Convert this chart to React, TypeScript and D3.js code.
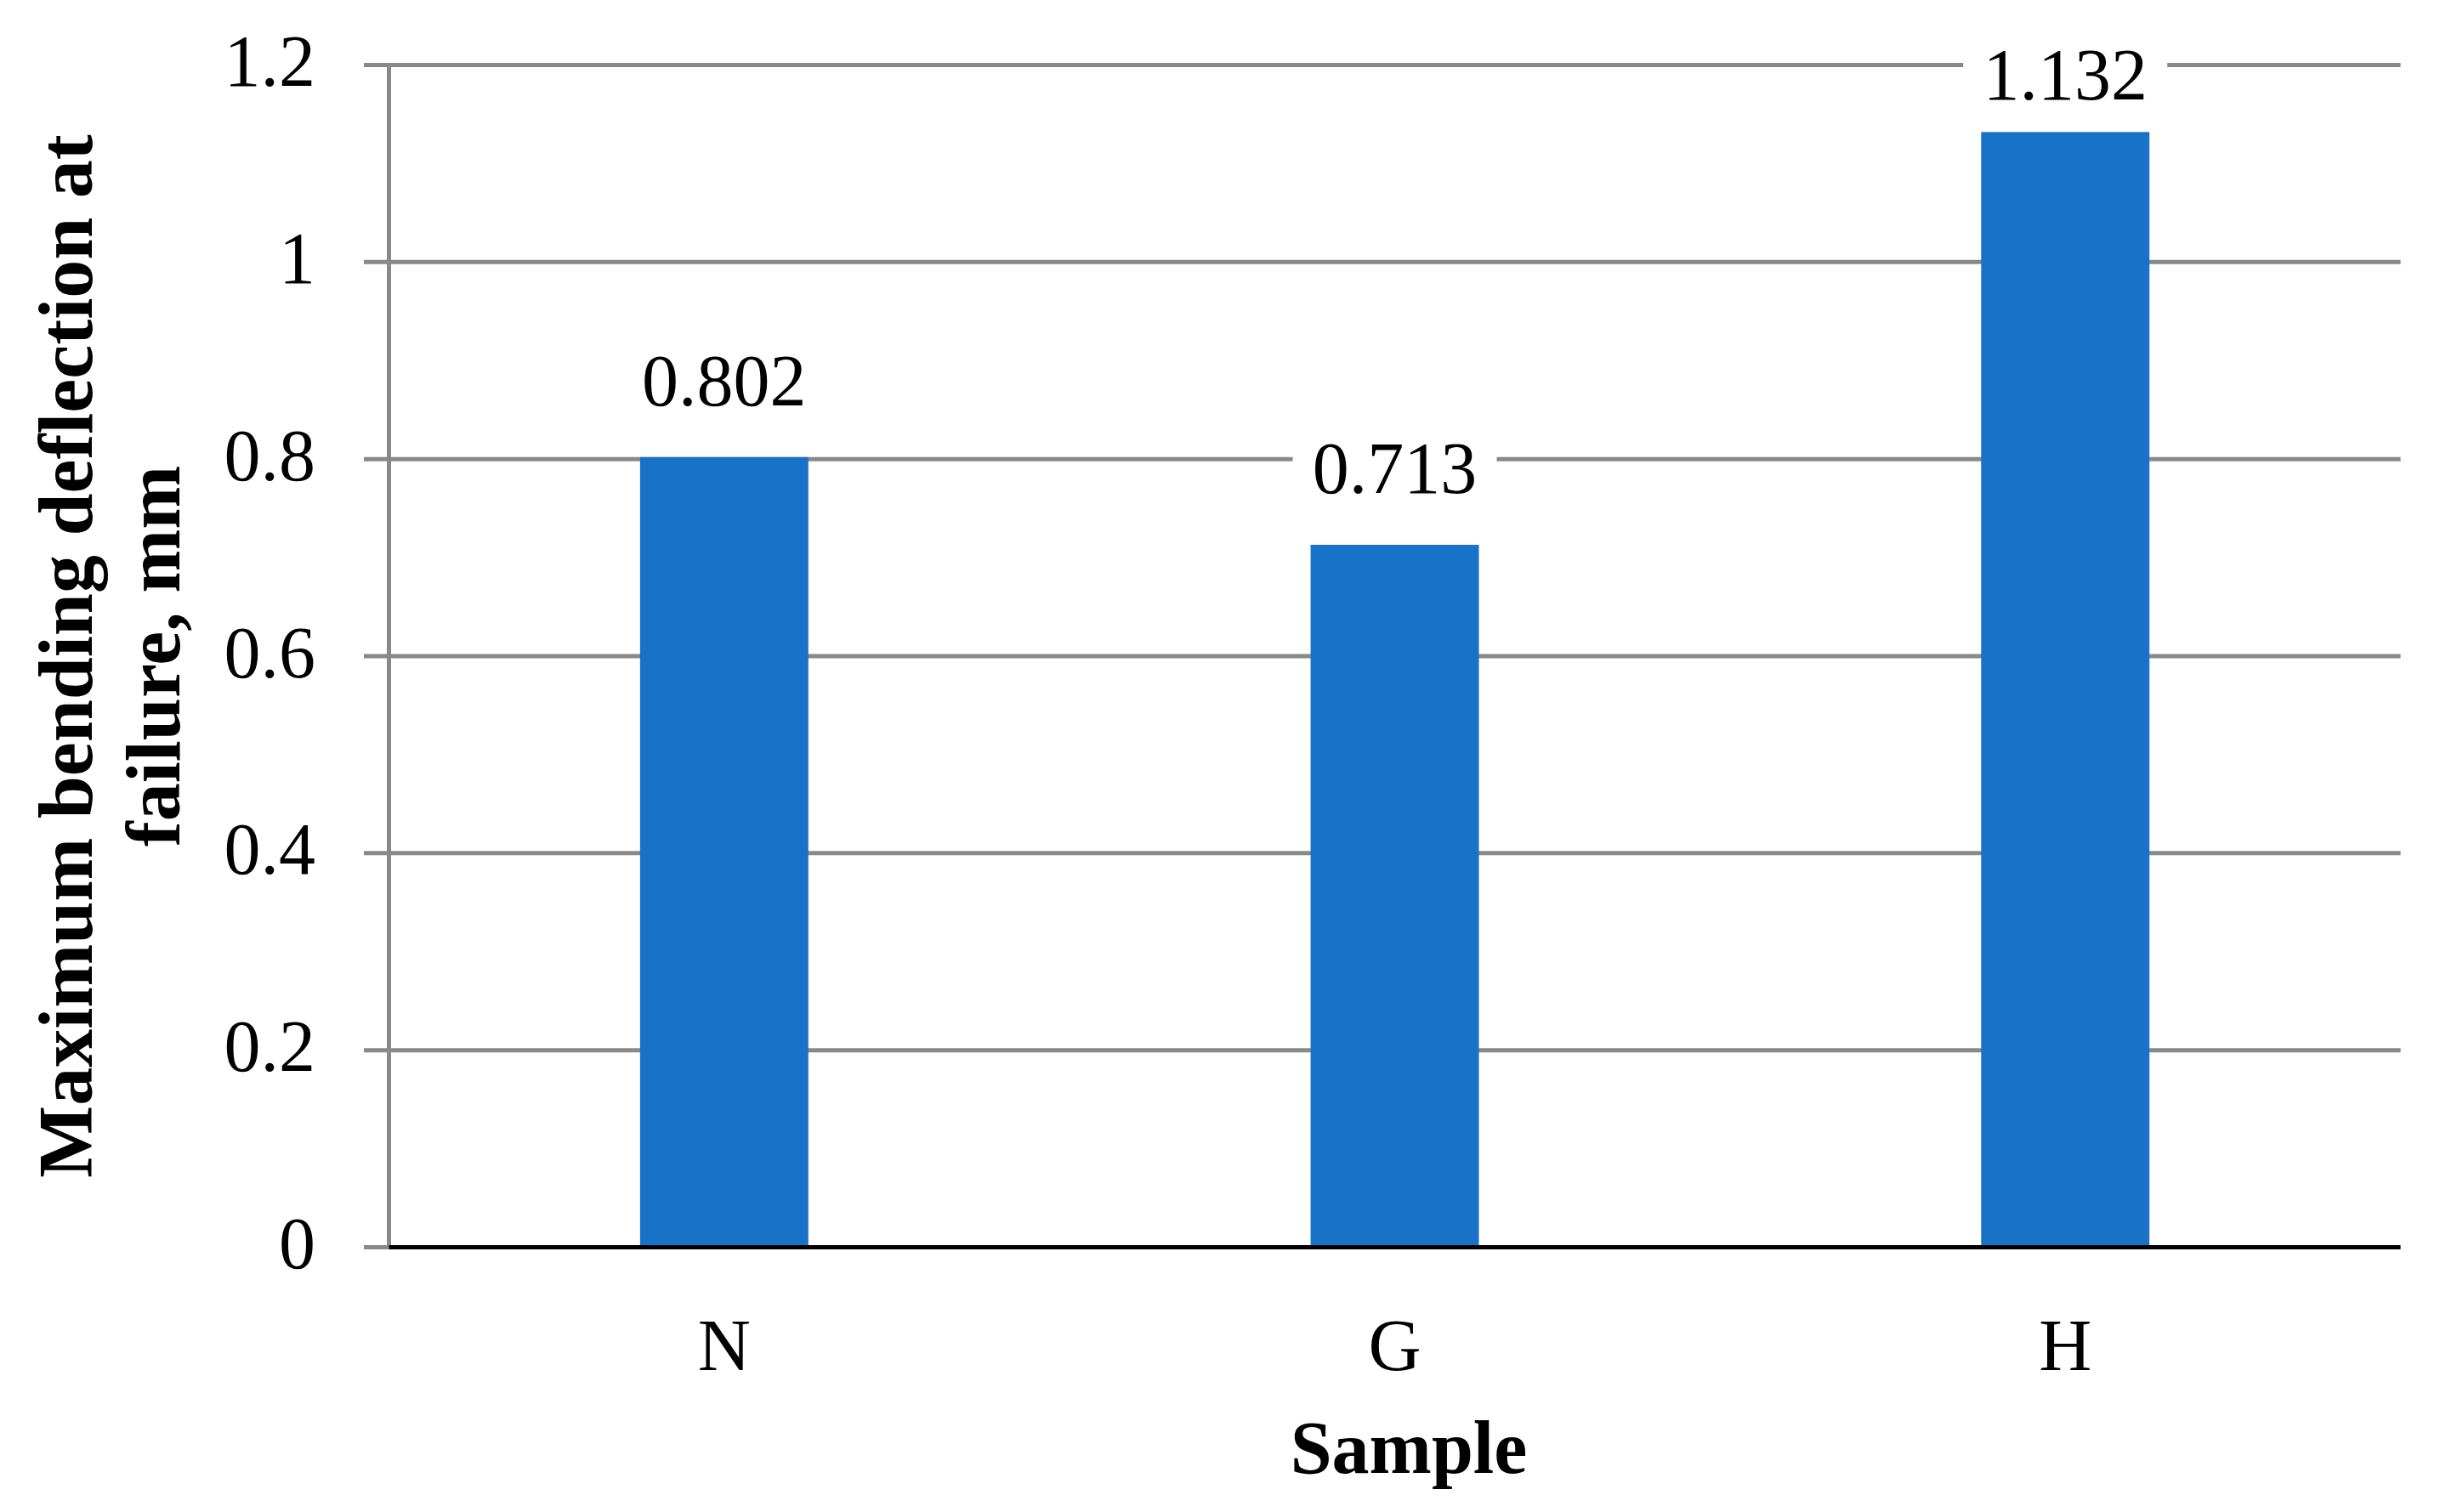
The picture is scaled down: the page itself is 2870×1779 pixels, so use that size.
import React from "react";
import * as d3 from "d3";

const categories = ["N", "G", "H"];
const values = [0.802, 0.713, 1.132];
const valueLabels = ["0.802", "0.713", "1.132"];
const yTicks = [0, 0.2, 0.4, 0.6, 0.8, 1, 1.2];
const yTickLabels = ["0", "0.2", "0.4", "0.6", "0.8", "1", "1.2"];
const xTitle = "Sample";
const yTitleLines = ["Maximum bending deflection at", "failure, mm"];

const W = 2870;
const H = 1779;
const left = 457.5;
const right = 2823.6;
const top = 76.5;
const bottom = 1467.5;
const FONT = "'Liberation Serif', 'Times New Roman', serif";
const BAR = "#1873c8";
const GRID = "#898989";

export default function App() {
  const x = d3.scaleBand<string>().domain(categories).range([left, right]).padding(0);
  const y = d3.scaleLinear().domain([0, 1.2]).range([bottom, top]);
  const barW = x.bandwidth() * 0.251;
  const midY = (top + bottom) / 2;

  return (
    <svg
      width={W}
      height={H}
      viewBox={`0 0 ${W} ${H}`}
      style={{ position: "absolute", left: 0, top: 0, background: "#fff" }}
    >
      <rect x={0} y={0} width={W} height={H} fill="#fff" />
      {yTicks.map((t) =>
        t === 0 ? null : (
          <line key={"g" + t} x1={428} x2={right} y1={y(t)} y2={y(t)} stroke={GRID} strokeWidth={5} />
        )
      )}
      <line x1={left} x2={left} y1={y(1.2) - 2.5} y2={bottom} stroke={GRID} strokeWidth={5} />
      <line x1={428} x2={left} y1={y(0)} y2={y(0)} stroke={GRID} strokeWidth={5} />
      {categories.map((c, i) => (
        <rect
          key={c}
          x={(x(c) as number) + x.bandwidth() / 2 - barW / 2}
          y={y(values[i])}
          width={barW}
          height={y(0) - y(values[i])}
          fill={BAR}
        />
      ))}
      <line x1={left} x2={right} y1={y(0)} y2={y(0)} stroke="#000" strokeWidth={5} />
      {categories.map((c, i) => {
        const cx = (x(c) as number) + x.bandwidth() / 2;
        const base = Math.max(y(values[i]) - 61, y(1.2) + 40);
        return (
          <g key={"l" + c}>
            <rect x={cx - 120} y={base - 70} width={240} height={92} fill="#fff" />
            <text x={cx} y={base} textAnchor="middle" fontFamily={FONT} fontSize={86} fill="#000">
              {valueLabels[i]}
            </text>
          </g>
        );
      })}
      {yTicks.map((t, i) => (
        <text
          key={"t" + t}
          x={371}
          y={y(t) + 24.5}
          textAnchor="end"
          fontFamily={FONT}
          fontSize={86}
          fill="#000"
        >
          {yTickLabels[i]}
        </text>
      ))}
      {categories.map((c) => (
        <text
          key={"c" + c}
          x={(x(c) as number) + x.bandwidth() / 2}
          y={1612}
          textAnchor="middle"
          fontFamily={FONT}
          fontSize={86}
          fill="#000"
        >
          {c}
        </text>
      ))}
      <text x={1657} y={1733} textAnchor="middle" fontFamily={FONT} fontSize={88} fontWeight="bold" fill="#000">
        {xTitle}
      </text>
      {yTitleLines.map((l, i) => (
        <text
          key={"y" + i}
          transform={`translate(${i === 0 ? 108 : 211}, ${midY}) rotate(-90)`}
          textAnchor="middle"
          fontFamily={FONT}
          fontSize={90}
          fontWeight="bold"
          fill="#000"
        >
          {l}
        </text>
      ))}
    </svg>
  );
}
